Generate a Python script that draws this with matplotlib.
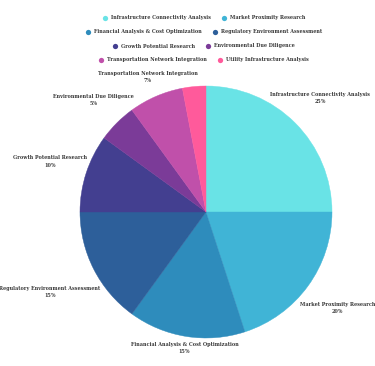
import matplotlib
matplotlib.use("Agg")
import matplotlib.pyplot as plt
import numpy as np

# Pie data
categories = [
    "Infrastructure Connectivity Analysis",
    "Market Proximity Research",
    "Financial Analysis & Cost Optimization",
    "Regulatory Environment Assessment",
    "Growth Potential Research",
    "Environmental Due Diligence",
    "Transportation Network Integration",
    "Utility Infrastructure Analysis",
]
shares = [25, 20, 15, 15, 10, 5, 7, 3]
colors = ["#69E3E6", "#40B4D6", "#2E8CBC", "#2D5F9A",
          "#433F90", "#7B3B98", "#C050AA", "#FF5A9B"]

# legend rows (indices into categories)
legend_rows = [[0, 1], [2, 3], [4, 5], [6, 7]]

W, H = 375, 366
FONT = "DejaVu Serif"
TXT = "#3a3a3a"
FS = 3.5

fig = plt.figure(figsize=(W / 100, H / 100), dpi=100)
ax = fig.add_axes([0, 0, 1, 1])

cx, cy, r = 206, H - 212, 126
wedges, _ = ax.pie(shares, colors=colors, startangle=90, counterclock=False,
                   center=(cx, cy), radius=r, frame=True,
                   wedgeprops=dict(linewidth=0.3, edgecolor=None))
for w in wedges:
    w.set_edgecolor(w.get_facecolor())
ax.set_xlim(0, W)
ax.set_ylim(0, H)
ax.set_aspect("equal")
ax.axis("off")

# outside labels (radial distance factor per slice, small slices hidden)
label_dist = [1.28, 1.29, 1.09, 1.39, 1.30, 1.26, 1.17, 1.2]
for i, w in enumerate(wedges):
    if shares[i] < 5:
        continue
    mid = np.radians((w.theta1 + w.theta2) / 2)
    x = cx + r * label_dist[i] * np.cos(mid)
    y = cy + r * label_dist[i] * np.sin(mid)
    ax.text(x, y + 3.5, categories[i], ha="center", va="center", fontsize=FS,
            family=FONT, fontweight="bold", color=TXT)
    ax.text(x, y - 4, f"{shares[i]}%", ha="center", va="center", fontsize=FS,
            family=FONT, fontweight="bold", color=TXT)

# legend drawn by hand, rows centred
fig.canvas.draw()
renderer = fig.canvas.get_renderer()
row_y = [H - 18, H - 32, H - 46, H - 60]
gap, spacing = 6, 13
for row, yy in zip(legend_rows, row_y):
    items = []
    for idx in row:
        t = ax.text(0, yy, categories[idx], ha="left", va="center", fontsize=FS,
                    family=FONT, fontweight="bold", color=TXT)
        bb = t.get_window_extent(renderer)
        items.append((idx, t, bb.width))
    total = sum(gap + w for _, _, w in items) + spacing * (len(items) - 1)
    x0 = 205 - total / 2
    for idx, t, w in items:
        ax.plot(x0, yy, "o", color=colors[idx], markersize=3.8, markeredgewidth=0)
        t.set_x(x0 + gap)
        x0 += gap + w + spacing

fig.savefig("out.png", dpi=100)
